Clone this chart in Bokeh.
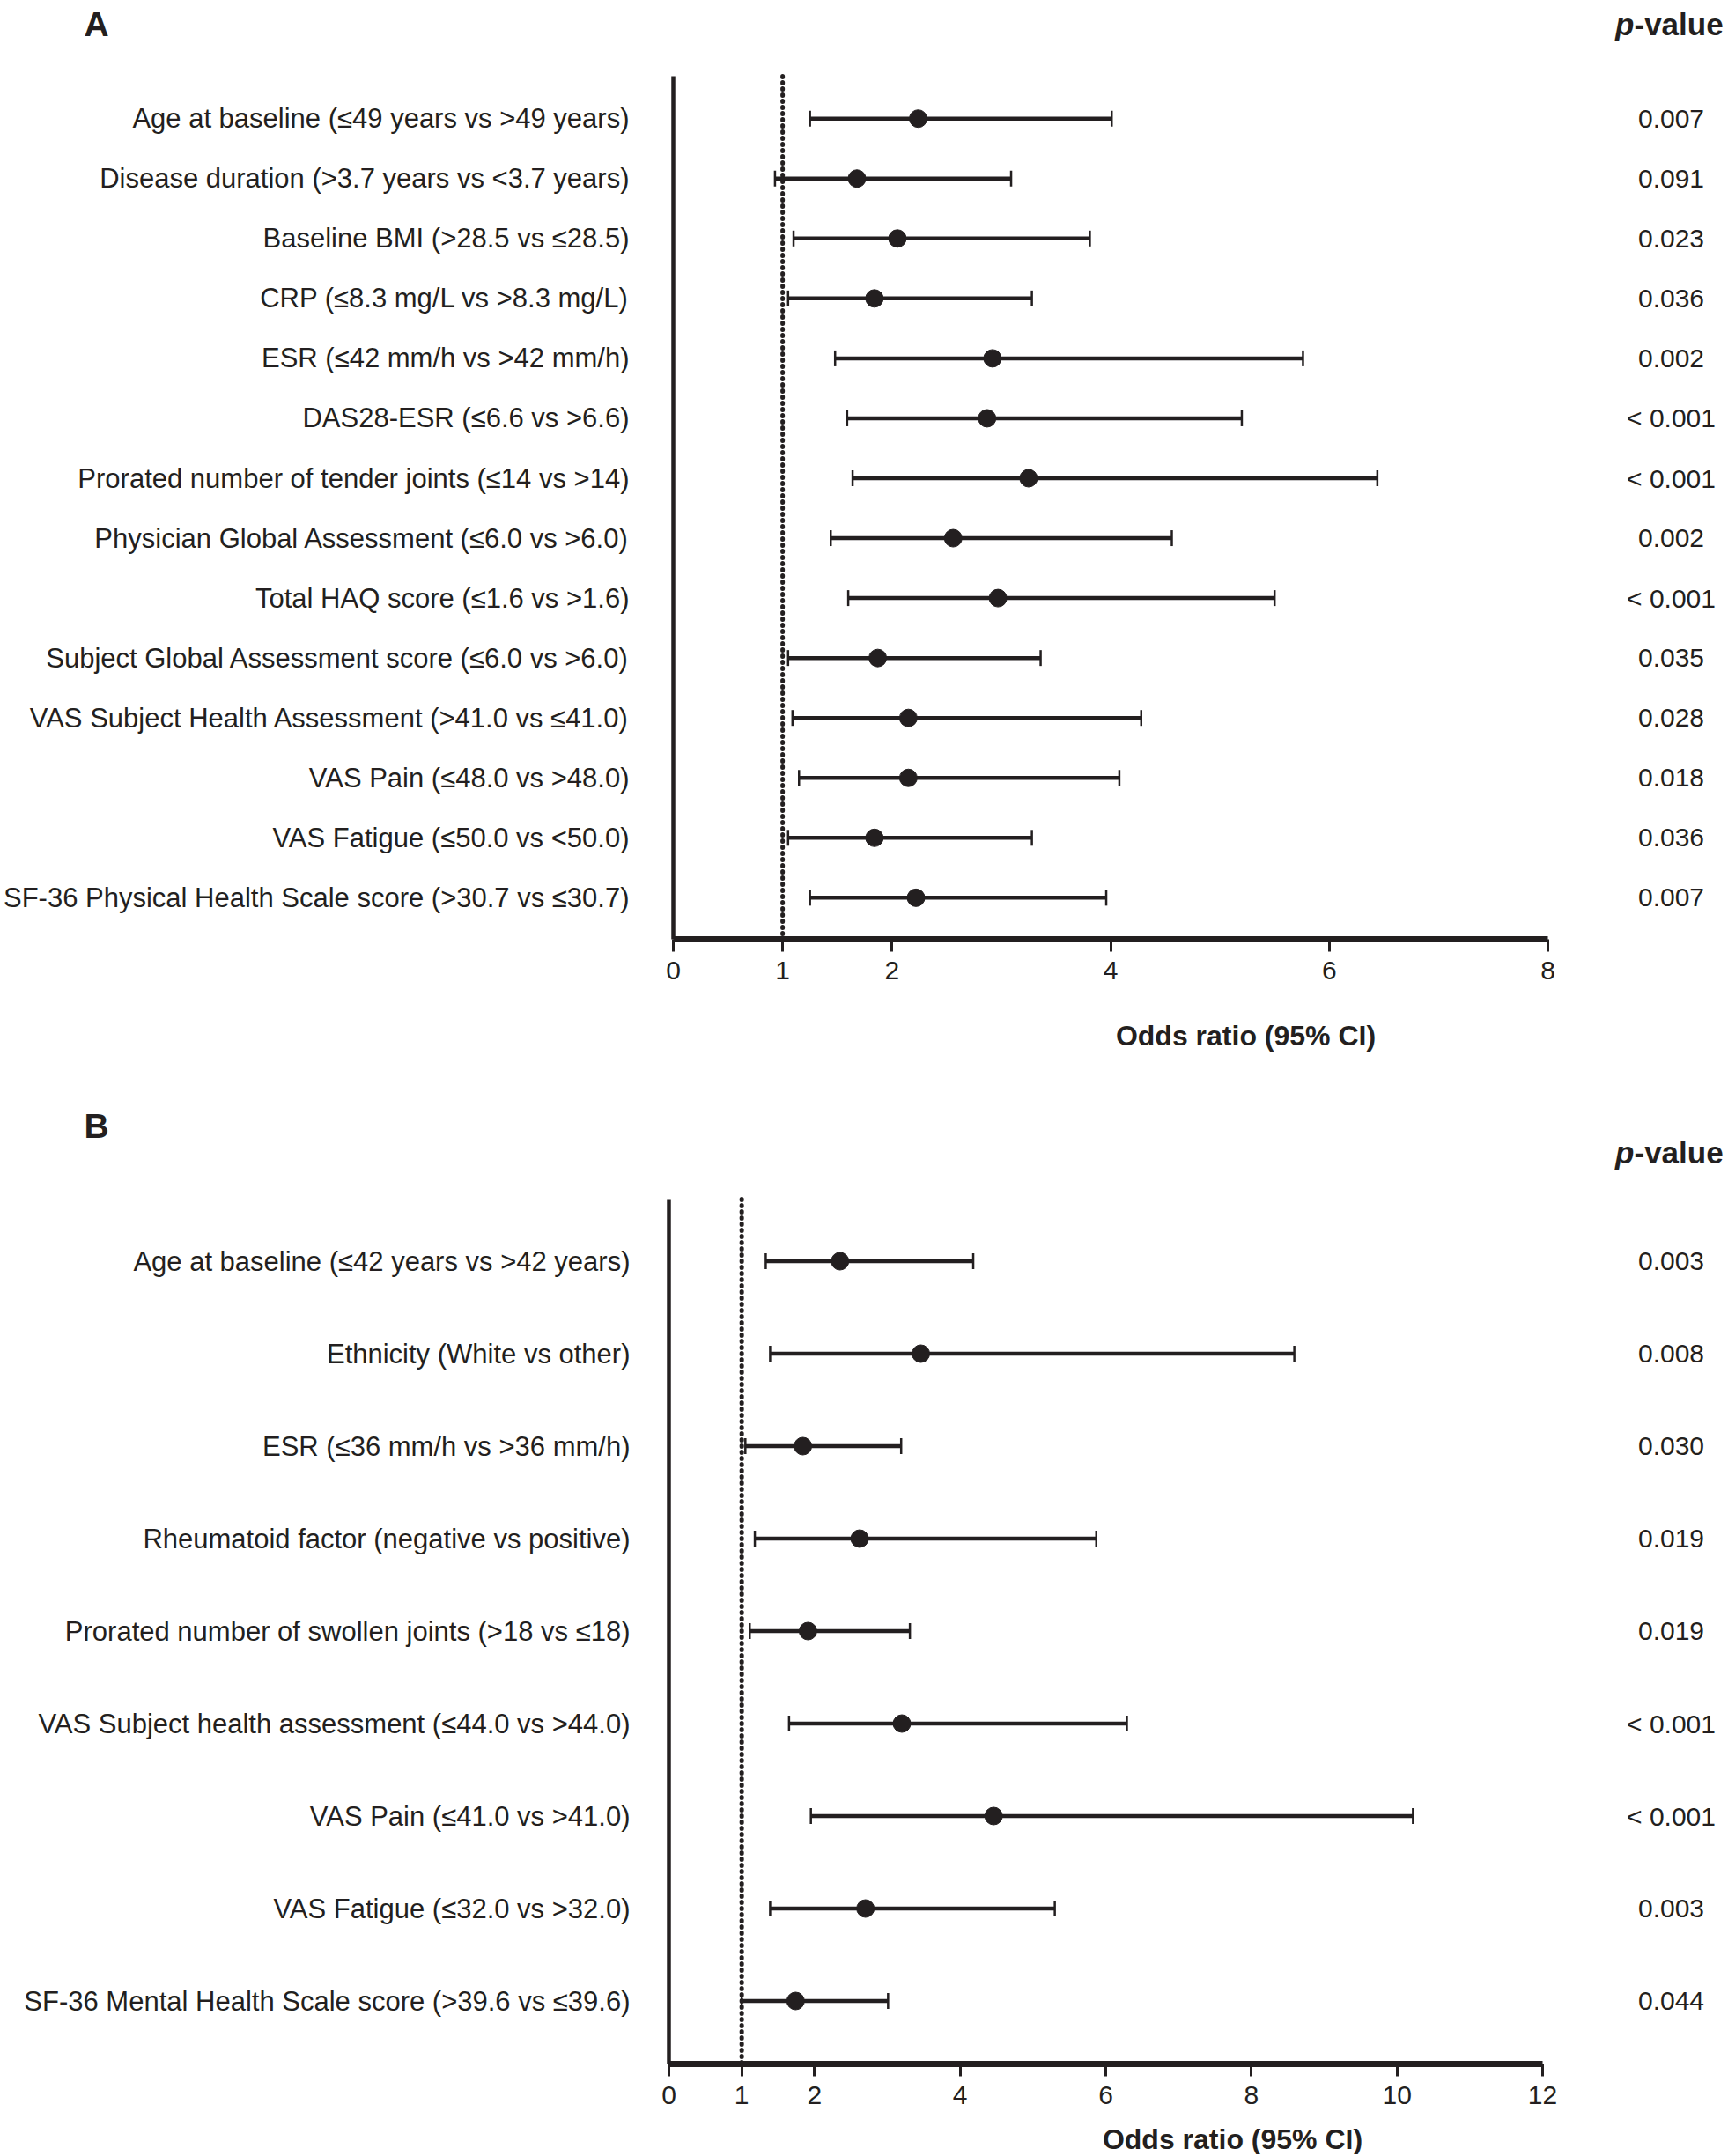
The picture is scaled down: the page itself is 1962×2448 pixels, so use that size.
from bokeh.plotting import figure
from bokeh.models import (Range1d, FixedTicker, Whisker, TeeHead,
                          ColumnDataSource, Label, LabelSet)
from bokeh.core.properties import value
from bokeh.layouts import column
from bokeh.embed import file_html
from bokeh.resources import INLINE

# ---------------- data ----------------
A_labels = [
    "Age at baseline (\u226449 years vs >49 years)",
    "Disease duration (>3.7 years vs <3.7 years)",
    "Baseline BMI (>28.5 vs \u226428.5)",
    "CRP (\u22648.3 mg/L vs >8.3 mg/L)",
    "ESR (\u226442 mm/h vs >42 mm/h)",
    "DAS28-ESR (\u22646.6 vs >6.6)",
    "Prorated number of tender joints (\u226414 vs >14)",
    "Physician Global Assessment (\u22646.0 vs >6.0)",
    "Total HAQ score (\u22641.6 vs >1.6)",
    "Subject Global Assessment score (\u22646.0 vs >6.0)",
    "VAS Subject Health Assessment (>41.0 vs \u226441.0)",
    "VAS Pain (\u226448.0 vs >48.0)",
    "VAS Fatigue (\u226450.0 vs <50.0)",
    "SF-36 Physical Health Scale score (>30.7 vs \u226430.7)",
]
A_or = [2.24, 1.68, 2.05, 1.84, 2.92, 2.87, 3.25, 2.56, 2.97, 1.87, 2.15, 2.15, 1.84, 2.22]
A_lo = [1.25, 0.93, 1.10, 1.05, 1.48, 1.59, 1.64, 1.44, 1.60, 1.05, 1.09, 1.15, 1.05, 1.25]
A_hi = [4.01, 3.09, 3.81, 3.28, 5.76, 5.20, 6.44, 4.56, 5.50, 3.36, 4.28, 4.08, 3.28, 3.96]
A_p = ["0.007", "0.091", "0.023", "0.036", "0.002", "< 0.001", "< 0.001",
       "0.002", "< 0.001", "0.035", "0.028", "0.018", "0.036", "0.007"]
A_xticks = [0, 1, 2, 4, 6, 8]

B_labels = [
    "Age at baseline (\u226442 years vs >42 years)",
    "Ethnicity (White vs other)",
    "ESR (\u226436 mm/h vs >36 mm/h)",
    "Rheumatoid factor (negative vs positive)",
    "Prorated number of swollen joints (>18 vs \u226418)",
    "VAS Subject health assessment (\u226444.0 vs >44.0)",
    "VAS Pain (\u226441.0 vs >41.0)",
    "VAS Fatigue (\u226432.0 vs >32.0)",
    "SF-36 Mental Health Scale score (>39.6 vs \u226439.6)",
]
B_or = [2.35, 3.46, 1.84, 2.62, 1.91, 3.20, 4.46, 2.70, 1.74]
B_lo = [1.33, 1.39, 1.05, 1.18, 1.11, 1.65, 1.95, 1.39, 1.00]
B_hi = [4.18, 8.59, 3.19, 5.87, 3.31, 6.29, 10.22, 5.30, 3.01]
B_p = ["0.003", "0.008", "0.030", "0.019", "0.019", "< 0.001", "< 0.001", "0.003", "0.044"]
B_xticks = [0, 1, 2, 4, 6, 8, 10, 12]

REF_OR = 1  # line of no effect

# ---------------- styling ----------------
INK = "#231f20"
FONT = "Liberation Sans"
PAGE_W = 1960


def panel(letter, labels, ors, los, his, pvals, xmax, xticks, *,
          fig_top, fig_h, left, right, top, bottom, row0, step,
          label_standoff, letter_xy, phead_y, pcol_x, title_xy):
    """Geometry is given in page pixels; the frame fills the whole figure and
    the axes are pinned with fixed_location."""
    n = len(labels)
    ppu = (right - left) / xmax

    def dx(xpage):
        return (xpage - left) / ppu

    def dy(ypage):
        return (ypage - row0) / step

    p = figure(width=PAGE_W, height=fig_h, output_backend="svg", toolbar_location=None,
               title=None,
               x_range=Range1d(dx(0), dx(PAGE_W)),
               y_range=Range1d(dy(fig_top + fig_h), dy(fig_top)),
               min_border=0)
    p.outline_line_color = None
    p.xgrid.visible = False
    p.ygrid.visible = False
    p.background_fill_color = "white"
    p.border_fill_color = "white"

    y_top, y_bot = dy(top), dy(bottom)

    # y axis: category names
    ya = p.yaxis[0]
    ya.fixed_location = 0
    ya.bounds = (y_top, y_bot)
    ya.ticker = FixedTicker(ticks=list(range(n)))
    ya.major_label_overrides = {i: lab for i, lab in enumerate(labels)}
    ya.axis_line_width = 4.5
    ya.axis_line_color = INK
    ya.major_tick_line_color = None
    ya.minor_tick_line_color = None
    ya.major_label_standoff = label_standoff
    ya.major_label_text_font = FONT
    ya.major_label_text_font_size = "31px"
    ya.major_label_text_color = INK

    # x axis
    xa = p.xaxis[0]
    xa.fixed_location = y_bot
    xa.bounds = (0, xmax)
    xa.ticker = FixedTicker(ticks=xticks)
    xa.axis_line_width = 7
    xa.axis_line_color = INK
    xa.major_tick_out = 14
    xa.major_tick_in = 0
    xa.major_tick_line_width = 3
    xa.major_tick_line_color = INK
    xa.minor_tick_line_color = None
    xa.major_label_standoff = 11
    xa.major_label_text_font = FONT
    xa.major_label_text_font_size = "30px"
    xa.major_label_text_color = INK

    # dotted reference line at OR = 1, spanning the axis height
    p.segment(x0=[REF_OR], y0=[y_top], x1=[REF_OR], y1=[y_bot], line_color=INK,
              line_width=5, line_dash="1 6", line_cap="round")

    src = ColumnDataSource(dict(y=list(range(n)), est=ors, lo=los, hi=his, p=pvals,
                                px=[dx(pcol_x)] * n))
    p.add_layout(Whisker(source=src, base="y", lower="lo", upper="hi", dimension="width",
                         line_width=4.5, line_color=INK,
                         lower_head=TeeHead(size=18, line_width=2.5, line_color=INK),
                         upper_head=TeeHead(size=18, line_width=2.5, line_color=INK)))
    p.scatter("est", "y", source=src, size=20, color=INK)

    # p-value column
    p.add_layout(LabelSet(x="px", y="y", text="p", source=src, text_align="center",
                          text_baseline="middle", text_font=value(FONT),
                          text_font_size=value("30px"), text_color=value(INK)))

    # panel letter
    p.add_layout(Label(x=dx(letter_xy[0]), y=dy(letter_xy[1]), text=letter,
                       text_align="center", text_baseline="middle", text_font=FONT,
                       text_font_size="39px", text_font_style="bold", text_color=INK))
    # p-value header ("p" italic)
    split = pcol_x - 42
    p.add_layout(Label(x=dx(split), y=dy(phead_y), text="p", text_align="right",
                       text_baseline="middle", text_font=FONT, text_font_size="35px",
                       text_font_style="bold italic", text_color=INK))
    p.add_layout(Label(x=dx(split), y=dy(phead_y), text="-value", text_align="left",
                       text_baseline="middle", text_font=FONT, text_font_size="35px",
                       text_font_style="bold", text_color=INK))
    # x axis title
    p.add_layout(Label(x=dx(title_xy[0]), y=dy(title_xy[1]), text="Odds ratio (95% CI)",
                       text_align="center", text_baseline="middle", text_font=FONT,
                       text_font_size="32px", text_font_style="bold", text_color=INK))
    return p


HA = 1240
pA = panel("A", A_labels, A_or, A_lo, A_hi, A_p, 8, A_xticks,
           fig_top=0, fig_h=HA, left=764, right=1757, top=86, bottom=1066,
           row0=134.2, step=68.05, label_standoff=44,
           letter_xy=(109, 27), phead_y=27, pcol_x=1897, title_xy=(1414, 1175))

HB = 2446 - HA
pB = panel("B", B_labels, B_or, B_lo, B_hi, B_p, 12, B_xticks,
           fig_top=HA, fig_h=HB, left=759, right=1751, top=1361, bottom=2343,
           row0=1431.5, step=105.0, label_standoff=38,
           letter_xy=(109, 1278), phead_y=1308, pcol_x=1897, title_xy=(1399, 2428))

layout = column(pA, pB, spacing=0)
open("out.html", "w").write(file_html(layout, INLINE))
